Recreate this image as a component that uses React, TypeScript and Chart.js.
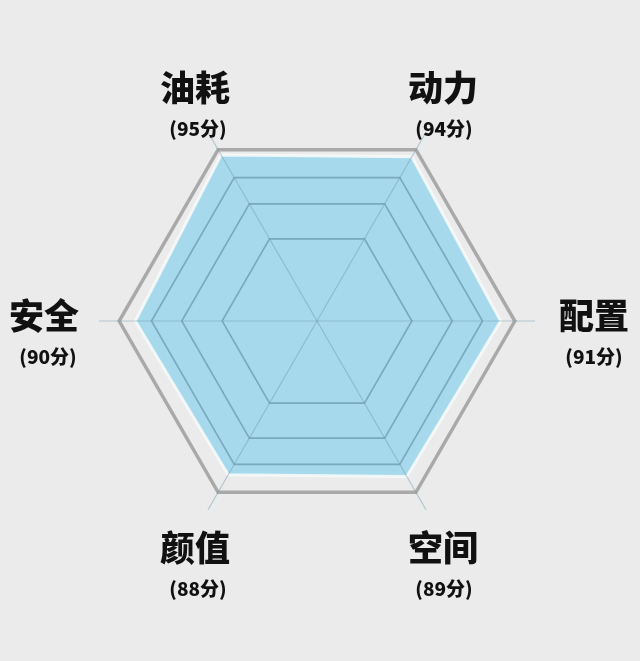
import React, { useRef, useEffect } from "react";
import Chart from "chart.js/auto";

const categories = ["油耗", "动力", "配置", "空间", "颜值", "安全"];
const scores = [95, 94, 91, 89, 88, 90];
// ring values of the hexagon grid (first one is the centre, last one is the spoke tip)
const ringTicks = [0, 47, 67, 82, 98, 108];

const labelPlugin = {
	id: "hexLabels",
	afterDraw(chart: any) {
		const scale = chart.scales.r;
		const ctx = chart.ctx;
		ctx.save();
		ctx.fillStyle = "#111111";
		ctx.textAlign = "center";
		ctx.textBaseline = "middle";
		categories.forEach((name, i) => {
			const unit = scale.getPointPosition(i, 100);
			const cos = (unit.x - scale.xCenter) / 100;
			const sin = (unit.y - scale.yCenter) / 100;
			// side labels sit a bit further out than the corner ones
			const dist = Math.abs(sin) < 0.1 ? 273 : 246;
			const p = scale.getPointPosition(i, dist);
			const cy = p.y + 16 + 18 * sin + (sin > 0.1 ? 3 : 0);
			ctx.font = '900 35px "Noto Sans CJK SC"';
			ctx.fillText(name, p.x + 2 + cos * 2, cy - 21);
			ctx.font = '900 19px "Noto Sans CJK SC"';
			ctx.fillText("(" + scores[i] + "分)", p.x + 4, cy + 20);
		});
		ctx.restore();
	},
};

function HexRadar() {
	const chartRef = useRef<HTMLCanvasElement>(null);
	const chartInstance = useRef<Chart<"radar"> | null>(null);

	useEffect(() => {
		if (chartInstance.current) {
			chartInstance.current.destroy();
			chartInstance.current = null;
		}
		if (chartRef && chartRef.current) {
			const ctx = chartRef.current.getContext("2d");
			if (ctx) {
				chartInstance.current = new Chart(ctx, {
					type: "radar",
					data: {
						labels: categories,
						datasets: [
							{
								data: scores,
								backgroundColor: "#a7d9ec",
								borderColor: "rgba(248,250,250,0.85)",
								borderWidth: 3,
								pointRadius: 0,
								pointHoverRadius: 0,
							},
						],
					},
					options: {
						responsive: false,
						animation: false,
						layout: { padding: { left: 99, right: 105, top: 103, bottom: 122 } },
						plugins: {
							legend: { display: false },
							tooltip: { enabled: false },
						},
						scales: {
							r: {
								min: 0,
								max: 108,
								startAngle: -30,
								afterBuildTicks: (s: any) => {
									s.ticks = ringTicks.map((v) => ({ value: v }));
								},
								ticks: { display: false },
								pointLabels: { display: false },
								grid: {
									z: 1,
									color: (c: any) =>
										c.index === 5 ? "rgba(0,0,0,0)" : c.index === 4 ? "#a9a9a9" : "#78a9bf",
									lineWidth: (c: any) => (c.index === 4 ? 3.5 : 1.6),
								},
								angleLines: {
									color: "rgba(110,150,170,0.45)",
									lineWidth: 1.2,
								},
							},
						},
					},
					plugins: [labelPlugin],
				} as any);
			}
		}
		return () => {
			if (chartInstance.current) {
				chartInstance.current.destroy();
			}
		};
	}, []);

	return <canvas ref={chartRef} width="640" height="661"></canvas>;
}

export default function App() {
	return (
		<div
			style={{
				position: "fixed",
				left: 0,
				top: 0,
				width: 640,
				height: 661,
				background: "#ebebeb",
			}}
		>
			<HexRadar />
		</div>
	);
}
